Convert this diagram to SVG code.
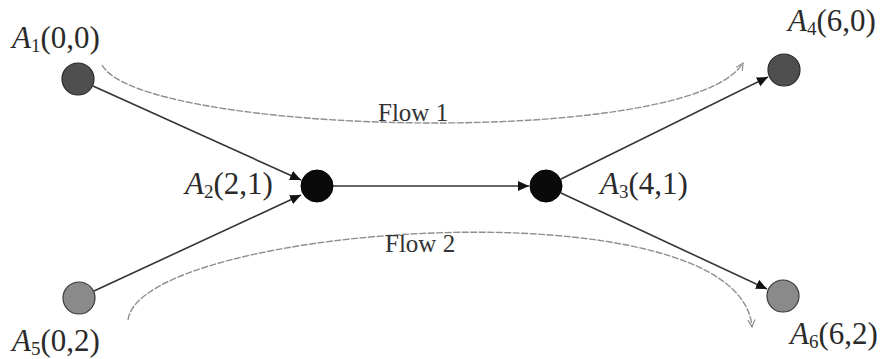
<svg xmlns="http://www.w3.org/2000/svg" width="883" height="359" viewBox="0 0 883 359">
<style>
.lbl{font-family:"Liberation Serif","Times New Roman",serif;font-size:31px;fill:#2a2a2a}
.it{font-style:italic}
.sub{font-size:19px}
.flow{font-family:"Liberation Serif","Times New Roman",serif;font-size:25px;fill:#333}
.edge{stroke:#333;stroke-width:1.6;fill:none}
.fl{stroke:#8f8f8f;stroke-width:1.4;fill:none;stroke-dasharray:7 1.5}
.dark{fill:#4f4f4f;stroke:#2a2a2a;stroke-width:1.2}
.mid{fill:#8a8a8a;stroke:#3a3a3a;stroke-width:1.2}
.blk{fill:#0a0a0a;stroke:#000;stroke-width:1}
</style>
<defs>
<marker id="ah" viewBox="0 0 10 10" refX="10" refY="5" markerWidth="11" markerHeight="11" markerUnits="userSpaceOnUse" orient="auto">
<path d="M0,0.5 L10,5 L0,9.5 Z" fill="#111"/>
</marker>
<marker id="oh" viewBox="0 0 10 10" refX="9" refY="5" markerWidth="9" markerHeight="9" markerUnits="userSpaceOnUse" orient="auto">
<path d="M1,1 L9,5 L1,9" fill="none" stroke="#8f8f8f" stroke-width="1.3"/>
</marker>
</defs>
<rect width="883" height="359" fill="#fff"/>
<g id="connectors">
<line class="edge" x1="93" y1="86" x2="301" y2="180" marker-end="url(#ah)"/>
<line class="edge" x1="94" y1="291" x2="301" y2="195" marker-end="url(#ah)"/>
<line class="edge" x1="333" y1="186" x2="529" y2="186" marker-end="url(#ah)"/>
<line class="edge" x1="561" y1="179" x2="768" y2="77" marker-end="url(#ah)"/>
<line class="edge" x1="561" y1="193" x2="767" y2="289" marker-end="url(#ah)"/>
<path class="fl" d="M102,65 C140,135 690,150 743,63" marker-end="url(#oh)"/>
<path class="fl" d="M128,320 C140,225 740,180 752,327" marker-end="url(#oh)"/>
</g>
<g id="A1"><circle class="dark" cx="78" cy="79" r="16"/>
<text class="lbl" x="12" y="48"><tspan class="it">A</tspan><tspan class="sub" dy="4">1</tspan><tspan dy="-4">(0,0)</tspan></text></g>
<g id="A2"><circle class="blk" cx="317" cy="186" r="16"/>
<text class="lbl" x="185" y="194"><tspan class="it">A</tspan><tspan class="sub" dy="4">2</tspan><tspan dy="-4">(2,1)</tspan></text></g>
<g id="A3"><circle class="blk" cx="546" cy="186" r="16"/>
<text class="lbl" x="600" y="194"><tspan class="it">A</tspan><tspan class="sub" dy="4">3</tspan><tspan dy="-4">(4,1)</tspan></text></g>
<g id="A4"><circle class="dark" cx="784" cy="70" r="16"/>
<text class="lbl" x="788" y="31"><tspan class="it">A</tspan><tspan class="sub" dy="4">4</tspan><tspan dy="-4">(6,0)</tspan></text></g>
<g id="A5"><circle class="mid" cx="79" cy="298" r="16"/>
<text class="lbl" x="12" y="351"><tspan class="it">A</tspan><tspan class="sub" dy="4">5</tspan><tspan dy="-4">(0,2)</tspan></text></g>
<g id="A6"><circle class="mid" cx="783" cy="296" r="16"/>
<text class="lbl" x="790" y="344"><tspan class="it">A</tspan><tspan class="sub" dy="4">6</tspan><tspan dy="-4">(6,2)</tspan></text></g>
<text class="flow" x="378" y="121">Flow 1</text>
<text class="flow" x="385" y="252">Flow 2</text>
</svg>
